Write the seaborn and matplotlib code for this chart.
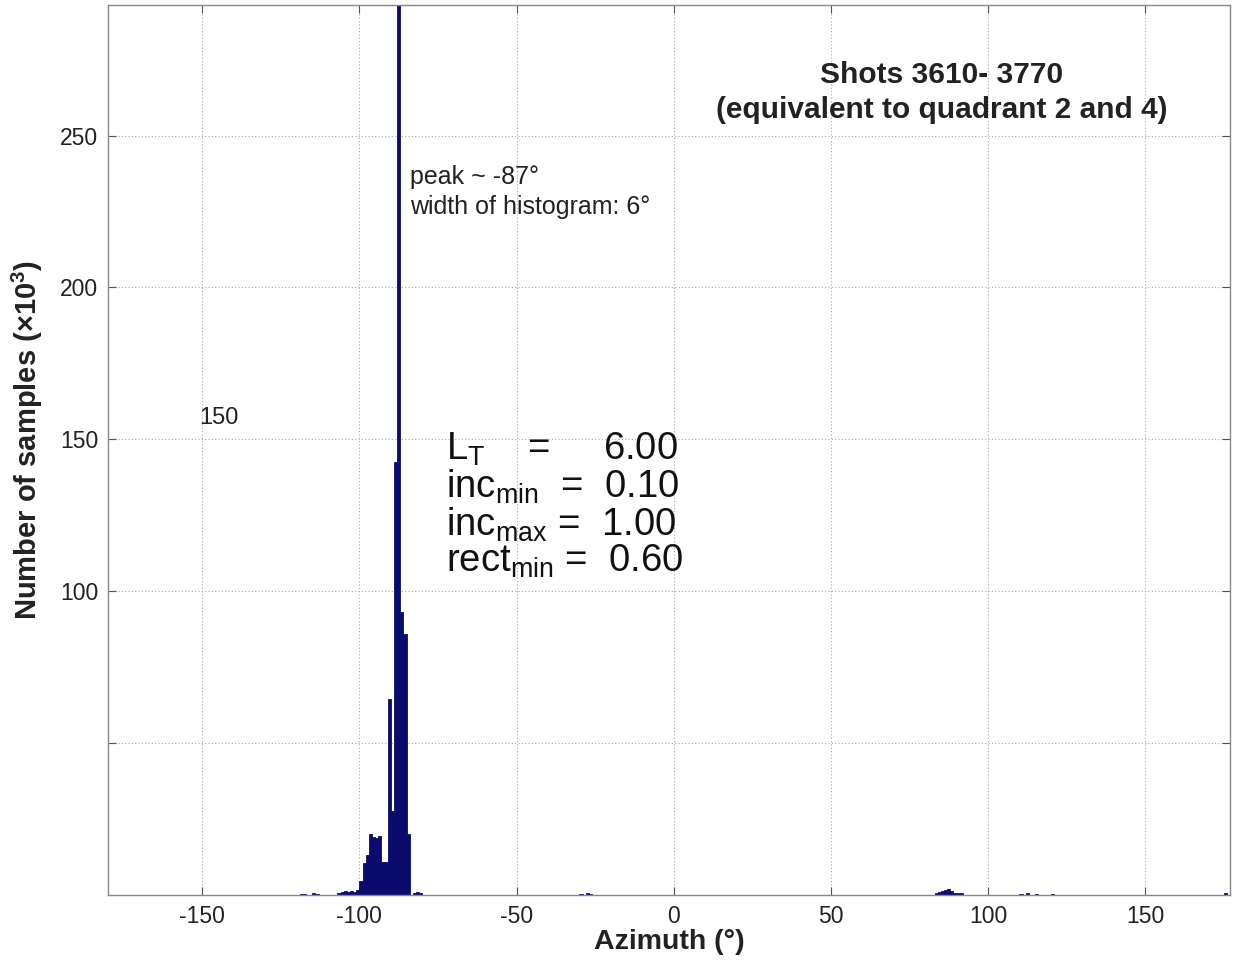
import matplotlib
matplotlib.use("Agg")
import matplotlib.pyplot as plt
import seaborn as sns
import numpy as np

# ---- data: histogram bins (left edge, degrees) and counts (x10^3) ----
bin_left = [-119, -118, -115, -114, -107, -106, -105, -104, -103, -102, -101,
            -100, -99, -98, -97, -96, -95, -94, -93, -92, -91, -90, -89, -88,
            -87, -86, -85, -83, -82, -81, -30, -28, -27,
            83, 84, 85, 86, 87, 88, 89, 90, 91, 110, 112, 115, 120, 175]
counts = [0.4, 0.3, 0.5, 0.3, 0.8, 1.0, 1.2, 0.9, 1.3, 1.0, 1.6,
          4.6, 10.4, 13.0, 20.0, 19.0, 18.7, 19.5, 11.0, 11.0, 64.5, 27.7, 142.7, 330.0,
          93.0, 86.0, 20.0, 0.8, 1.0, 0.5, 0.4, 0.6, 0.4,
          0.8, 1.0, 1.2, 1.6, 2.0, 1.2, 0.8, 0.6, 0.5, 0.4, 0.5, 0.4, 0.4, 0.6]

x_ticks = [-150, -100, -50, 0, 50, 100, 150]
y_ticks = [50, 100, 150, 200, 250]
y_tick_labels = ["", "100", "150", "200", "250"]

title_lines = ["Shots 3610- 3770", "(equivalent to quadrant 2 and 4)"]
note_lines = ["peak ~ -87°", "width of histogram: 6°"]
param_lines = [r"L$_\mathregular{T}$    =     6.00",
               r"inc$_\mathregular{min}$  =  0.10",
               r"inc$_\mathregular{max}$ =  1.00",
               r"rect$_\mathregular{min}$ =  0.60"]

sns.set_theme(style="white")
plt.rcParams["font.family"] = ["Liberation Sans", "DejaVu Sans"]
plt.rcParams["mathtext.fontset"] = "custom"
plt.rcParams["mathtext.rm"] = "Liberation Sans"

fig = plt.figure(figsize=(12.35, 9.61), dpi=100)
ax = fig.add_axes([0.0874, 0.0687, 0.9086, 0.9261])

centers = np.array(bin_left) + 0.5
sns.histplot(x=centers, weights=counts, binwidth=1, binrange=(-180, 180),
             color="#0b0b6e", edgecolor="#0b0b6e", linewidth=0.6, alpha=1.0, ax=ax)

ax.set_xlim(-180, 177)
ax.set_ylim(0, 293)
ax.set_xticks(x_ticks)
ax.set_xticklabels([str(t) for t in x_ticks], fontsize=16.5, color="#222222")
ax.set_yticks(y_ticks)
ax.set_yticklabels(y_tick_labels, fontsize=16.5, color="#222222")
ax.tick_params(direction="in", length=6, width=0.8, color="#555555",
               top=True, right=True, bottom=True, left=True, pad=7)
ax.grid(True, linestyle=(0, (1, 2)), color="#aaaaaa", linewidth=0.8)
ax.set_axisbelow(True)
for s in ax.spines.values():
    s.set_color("#888888")
    s.set_linewidth(1.0)

ax.set_xlabel("Azimuth (°)", fontsize=20.5, fontweight="bold", labelpad=1, color="#222222")
ax.set_ylabel(r"Number of samples (×10$^\mathregular{3}$)", fontsize=21,
              fontweight="bold", color="#222222")
ax.yaxis.set_label_coords(-0.056, 0.511)

ax.text(0.743, 0.921, title_lines[0], transform=ax.transAxes, ha="center", va="center",
        fontsize=21.5, fontweight="bold", color="#222222")
ax.text(0.743, 0.882, title_lines[1], transform=ax.transAxes, ha="center", va="center",
        fontsize=21.5, fontweight="bold", color="#222222")

ax.text(-84, 236.3, note_lines[0], fontsize=18, va="center", ha="left", color="#222222")
ax.text(-84, 226.6, note_lines[1], fontsize=18, va="center", ha="left", color="#222222")

ax.text(-151, 157, "150", fontsize=17, va="center", ha="left", color="#222222")

param_y = [146.8, 134.3, 122.0, 109.7]
for y, t in zip(param_y, param_lines):
    ax.text(-72.5, y, t, fontsize=27.5, va="center", ha="left", color="#111111")

fig.savefig("out.png", dpi=100)
